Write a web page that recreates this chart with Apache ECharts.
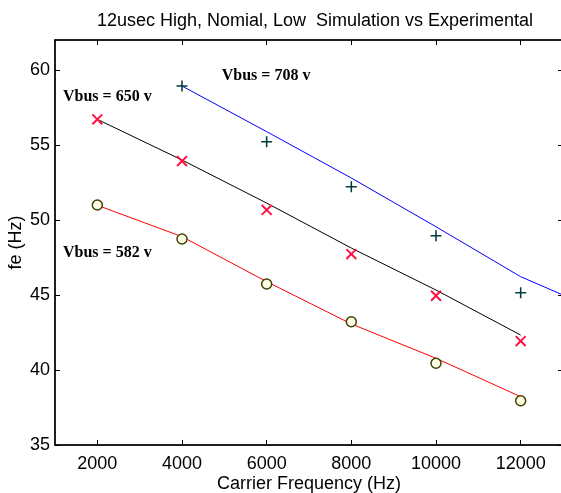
<!DOCTYPE html>
<html>
<head>
<meta charset="utf-8">
<script src="https://cdn.jsdelivr.net/npm/echarts@6/dist/echarts.min.js"></script>
<style>html,body{margin:0;padding:0;background:#fff}#c{width:561px;height:493px}</style>
</head>
<body>
<div id="c"></div>
<script>
// Data
const xTicks = [2000, 4000, 6000, 8000, 10000, 12000];
const yTicks = [35, 40, 45, 50, 55, 60];
// Vbus = 708 v
const highSimX = [4000, 6000, 8000, 10000, 12000, 13000];
const highSimY = [58.93, 55.89, 52.8, 49.55, 46.22, 45.0];
const highExpX = [4000, 6000, 8000, 10000, 12000];
const highExpY = [58.93, 55.22, 52.22, 48.95, 45.15];
// Vbus = 650 v
const nomSimX = [2000, 4000, 6000, 8000, 10000, 12000];
const nomSimY = [56.71, 54.0, 51.13, 48.13, 45.33, 42.33];
const nomExpX = [2000, 4000, 6000, 8000, 10000, 12000];
const nomExpY = [56.71, 53.93, 50.67, 47.73, 44.95, 41.93];
// Vbus = 582 v
const lowSimX = [2000, 4000, 6000, 8000, 10000, 12000];
const lowSimY = [50.98, 48.89, 45.89, 43.07, 40.78, 38.22];
const lowExpX = [2000, 4000, 6000, 8000, 10000, 12000];
const lowExpY = [51.0, 48.73, 45.73, 43.22, 40.45, 37.95];
// Annotations (data coordinates of left edge / vertical centre)
const notes = [
  {text: 'Vbus = 708 v', x: 4938, y: 59.6},
  {text: 'Vbus = 650 v', x: 1189, y: 58.2},
  {text: 'Vbus = 582 v', x: 1189, y: 47.8}
];

const zip = (xs, ys) => xs.map((x, i) => [x, ys[i]]);
const plusPath = 'path://M4.3,0h1.4v4.3h4.3v1.4h-4.3v4.3h-1.4v-4.3h-4.3v-1.4h4.3z';
const font = 'Liberation Sans, Arial, sans-serif';

const chart = echarts.init(document.getElementById('c'));
const commonX = {
  type: 'value', min: 1000, max: 13000,
  splitLine: {show: false}
};
const commonY = {
  type: 'value', min: 35, max: 62,
  splitLine: {show: false}
};
chart.setOption({
  animation: false,
  backgroundColor: '#fff',
  title: {
    text: '12usec High, Nomial, Low  Simulation vs Experimental',
    left: 310, top: 7, textAlign: 'center',
    textStyle: {fontFamily: font, fontSize: 18, fontWeight: 'normal', color: '#000'}
  },
  grid: {left: 55, top: 40, right: -2, bottom: 48, show: true, borderColor: '#000', borderWidth: 1,
    outerBoundsMode: 'none', containLabel: false},
  xAxis: [
    Object.assign({}, commonX, {
      position: 'bottom',
      name: 'Carrier Frequency (Hz)', nameLocation: 'middle', nameGap: 30, nameMoveOverlap: false,
      nameTextStyle: {fontFamily: font, fontSize: 18, color: '#000'},
      axisLine: {lineStyle: {color: '#000', width: 1.5}},
      axisTick: {inside: true, length: 5, customValues: xTicks, lineStyle: {color: '#000'}},
      axisLabel: {customValues: xTicks, formatter: v => String(v), fontFamily: font, fontSize: 18, color: '#000', margin: 10}
    }),
    Object.assign({}, commonX, {
      position: 'top',
      axisLine: {show: true, lineStyle: {color: '#000', width: 1.5}},
      axisTick: {inside: true, length: 5, customValues: xTicks, lineStyle: {color: '#000'}},
      axisLabel: {show: false}
    })
  ],
  yAxis: [
    Object.assign({}, commonY, {
      position: 'left',
      name: 'fe (Hz)', nameLocation: 'middle', nameGap: 30, nameMoveOverlap: false,
      nameTextStyle: {fontFamily: font, fontSize: 18, color: '#000'},
      axisLine: {show: true, lineStyle: {color: '#000', width: 1.5}},
      axisTick: {show: true, inside: true, length: 5, customValues: yTicks, lineStyle: {color: '#000'}},
      axisLabel: {customValues: yTicks, fontFamily: font, fontSize: 18, color: '#000', margin: 5}
    }),
    Object.assign({}, commonY, {
      position: 'right',
      axisLine: {show: true, lineStyle: {color: '#000', width: 1.5}},
      axisTick: {show: true, inside: true, length: 5, customValues: yTicks, lineStyle: {color: '#000'}},
      axisLabel: {show: false}
    })
  ],
  series: [
    {type: 'line', data: zip(highSimX, highSimY), showSymbol: false, lineStyle: {color: '#0000ff', width: 1}, z: 2},
    {type: 'line', data: zip(nomSimX, nomSimY), showSymbol: false, lineStyle: {color: '#000000', width: 1}, z: 2},
    {type: 'line', data: zip(lowSimX, lowSimY), showSymbol: false, lineStyle: {color: '#ff0000', width: 1}, z: 2},
    {type: 'scatter', data: zip(highExpX, highExpY), symbol: plusPath, symbolSize: 11,
      itemStyle: {color: '#003c3c', opacity: 1}, z: 3},
    {type: 'scatter', data: zip(nomExpX, nomExpY), symbol: plusPath, symbolSize: 14, symbolRotate: 45,
      itemStyle: {color: '#ff1040', opacity: 1}, z: 3},
    {type: 'scatter', data: zip(lowExpX, lowExpY), symbol: 'circle', symbolSize: 10,
      itemStyle: {color: '#ffffe8', borderColor: '#404000', borderWidth: 1.5, opacity: 1}, z: 3}
  ]
});
chart.setOption({
  graphic: notes.map(n => {
    const p = chart.convertToPixel({xAxisIndex: 0, yAxisIndex: 0}, [n.x, n.y]);
    return {
      type: 'text', x: p[0], y: p[1], z: 10,
      style: {text: n.text, fill: '#000', font: 'bold 16px "Liberation Serif", "Times New Roman", serif',
        textVerticalAlign: 'middle', verticalAlign: 'middle'}
    };
  })
});
</script>
</body>
</html>
